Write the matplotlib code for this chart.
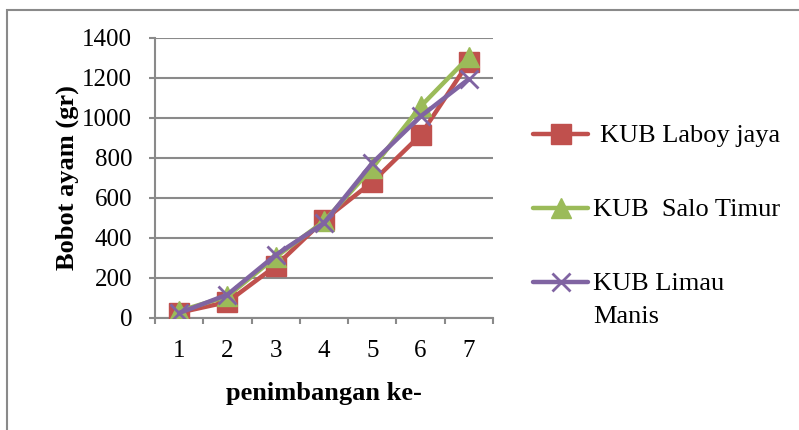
import matplotlib.pyplot as plt
from matplotlib.lines import Line2D
from matplotlib.patches import Rectangle

plt.rcParams['font.family'] = ['Liberation Serif', 'DejaVu Serif']

weighings = [1, 2, 3, 4, 5, 6, 7]
laboy_jaya = [27, 80, 260, 490, 680, 915, 1280]
salo_timur = [35, 108, 305, 483, 750, 1058, 1305]
limau_manis = [25, 117, 315, 475, 775, 1008, 1195]

series_names = ["KUB Laboy jaya", "KUB  Salo Timur", "KUB Limau\nManis"]
series_colors = ["#C0504D", "#9BBB59", "#8064A2"]
series_markers = ["s", "^", "x"]
yticks = [0, 200, 400, 600, 800, 1000, 1200, 1400]

W, H = 799, 430
fig = plt.figure(figsize=(W / 100, H / 100), dpi=100)
ax = fig.add_axes([155 / W, 1 - 318 / H, 338 / W, 280 / H])

# outer chart-area border (only top and left edges fall inside the image)
fig.add_artist(Rectangle((7 / W, -0.1), 1.2, 1 - 10 / H + 0.1,
                         transform=fig.transFigure, fill=False,
                         edgecolor="#8a8a8a", linewidth=1.5))

marker_sizes = [14, 14, 13]
marker_widths = [1, 1, 2]
for vals, color, mk, ms, mw in zip([laboy_jaya, salo_timur, limau_manis],
                                   series_colors, series_markers,
                                   marker_sizes, marker_widths):
    ax.plot(weighings, vals, color=color, linewidth=3.2, marker=mk,
            markersize=ms, markeredgewidth=mw, markerfacecolor=color,
            markeredgecolor=color, solid_capstyle="round", zorder=3)

ax.set_xlim(0.5, 7.5)
ax.set_ylim(0, 1400)
ax.set_yticks(yticks)
ax.set_xticks(weighings)
ax.set_xticks([w - 0.5 for w in weighings] + [7.5], minor=True)
ax.tick_params(axis="x", which="major", length=0, labelsize=18, pad=16)
ax.tick_params(axis="x", which="minor", length=4.5, width=1.5, color="#8a8a8a")
ax.tick_params(axis="y", length=4.5, width=1.5, color="#8a8a8a", labelsize=18, pad=12)
ax.grid(axis="y", color="#8a8a8a", linewidth=1.5)
ax.set_axisbelow(True)
for side in ["top", "right"]:
    ax.spines[side].set_visible(False)
for side in ["left", "bottom"]:
    ax.spines[side].set_color("#8a8a8a")
    ax.spines[side].set_linewidth(1.5)

ax.set_xlabel("penimbangan ke-", fontsize=19, fontweight="bold", labelpad=14)
ax.set_ylabel("Bobot ayam (gr)", fontsize=19, fontweight="bold", labelpad=2)

# legend drawn by hand to place the entries like the original layout;
# wrapped names continue one text line (33 px) below the handle row
legend_rows = [134, 208, 282]
text_x = [600, 593, 593]
for name, color, mk, ms, mw, y, tx in zip(series_names, series_colors,
                                          series_markers, marker_sizes,
                                          marker_widths, legend_rows, text_x):
    yf = 1 - y / H
    fig.add_artist(Line2D([533 / W, 561 / W, 588 / W], [yf, yf, yf],
                          transform=fig.transFigure, color=color,
                          linewidth=3.2, marker=mk, markevery=[1],
                          markersize=ms, markeredgewidth=mw,
                          markerfacecolor=color, markeredgecolor=color,
                          solid_capstyle="round"))
    for i, line in enumerate(name.split("\n")):
        fig.text(tx / W, yf - (8 + 33 * i) / H, line, fontsize=19,
                 va="baseline", ha="left")

fig.savefig("out.png", dpi=100)
